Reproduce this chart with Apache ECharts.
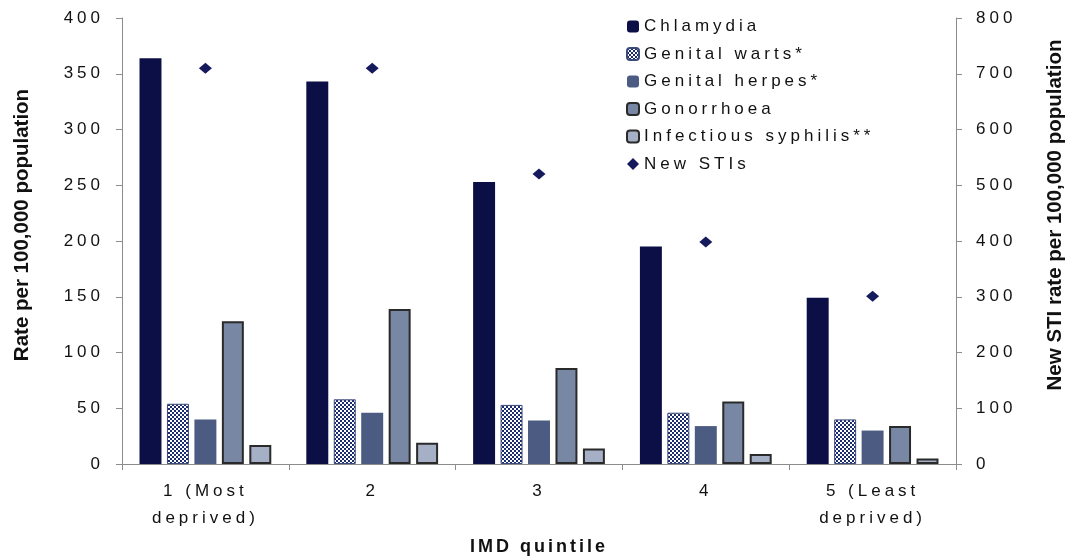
<!DOCTYPE html>
<html>
<head>
<meta charset="utf-8">
<script src="https://cdn.jsdelivr.net/npm/echarts@6/dist/echarts.min.js"></script>
<style>
html,body{margin:0;padding:0;background:#fff;}
#chart{width:1072px;height:557px;}
</style>
</head>
<body>
<div id="chart"></div>
<script>
// ---- data ----
var categories = ['1 (Most\ndeprived)', '2', '3', '4', '5 (Least\ndeprived)'];
var chlamydia = [364, 343, 253, 195, 149];
var genitalWarts = [54, 58, 53, 46, 40];
var genitalHerpes = [40, 46, 39, 34, 30];
var gonorrhoea = [128, 139, 86, 56, 34];
var syphilis = [17, 19, 14, 9, 5];
var newSTIs = [710, 710, 520, 398, 301];
var leftTicks = {min: 0, max: 400, interval: 50};
var rightTicks = {min: 0, max: 800, interval: 100};

// widen letter spacing of text to mimic the stretched original rendering
(function () {
  var P = CanvasRenderingContext2D.prototype;
  function sp(ctx) {
    var f = ctx.font || '';
    var s = '4px';
    if (/\b600\b/.test(f)) s = '0px';
    else if (/bold|700/.test(f)) s = '3px';
    if ('letterSpacing' in ctx) ctx.letterSpacing = s;
  }
  ['fillText', 'strokeText', 'measureText'].forEach(function (n) {
    var o = P[n];
    P[n] = function () { sp(this); return o.apply(this, arguments); };
  });
})();

function checker() {
  var c = document.createElement('canvas');
  c.width = 4; c.height = 4;
  var g = c.getContext('2d');
  g.fillStyle = '#ffffff'; g.fillRect(0, 0, 4, 4);
  g.fillStyle = '#1c2b6e'; g.fillRect(0, 0, 2, 2); g.fillRect(2, 2, 2, 2);
  return c;
}

var FONT = 'Liberation Sans, Arial, sans-serif';
var TXT = '#111111';
var AX = '#8c8c8c';

var chart = echarts.init(document.getElementById('chart'), null, {renderer: 'canvas'});
var barBase = {type: 'bar', barGap: '25%', barCategoryGap: '21%'};

chart.setOption({
  animation: false,
  backgroundColor: '#ffffff',
  textStyle: {fontFamily: FONT, color: TXT},
  grid: {left: 122, right: 116, top: 18, bottom: 93, containLabel: false, outerBoundsMode: 'none'},
  legend: {
    orient: 'vertical', left: 621, top: 11, itemGap: 6.5,
    itemWidth: 12, itemHeight: 12,
    textStyle: {fontFamily: FONT, fontSize: 17, color: TXT},
    data: ['Chlamydia', 'Genital warts*', 'Genital herpes*', 'Gonorrhoea', 'Infectious syphilis**', 'New STIs']
  },
  xAxis: {
    type: 'category', data: categories, boundaryGap: true,
    name: 'IMD quintile', nameLocation: 'middle', nameGap: 71,
    nameTextStyle: {fontFamily: FONT, fontWeight: 'bold', fontSize: 18, color: TXT},
    axisLine: {lineStyle: {color: AX, width: 1}},
    axisTick: {show: true, length: 6, lineStyle: {color: AX}},
    axisLabel: {fontFamily: FONT, fontSize: 17, color: TXT, margin: 14, lineHeight: 27}
  },
  yAxis: [{
    type: 'value', min: leftTicks.min, max: leftTicks.max, interval: leftTicks.interval,
    name: 'Rate per 100,000 population', nameLocation: 'middle', nameGap: 89, nameRotate: 90,
    nameTextStyle: {fontFamily: FONT, fontWeight: 600, fontSize: 20.5, color: TXT, padding: [0, 0, 0, 32]},
    splitLine: {show: false},
    axisLine: {show: true, lineStyle: {color: AX, width: 1}},
    axisTick: {show: true, length: 6, lineStyle: {color: AX}},
    axisLabel: {fontFamily: FONT, fontSize: 17, color: TXT, margin: 18}
  }, {
    type: 'value', min: rightTicks.min, max: rightTicks.max, interval: rightTicks.interval,
    name: 'New STI rate per 100,000 population', nameLocation: 'middle', nameGap: 89, nameRotate: 90,
    nameTextStyle: {fontFamily: FONT, fontWeight: 600, fontSize: 20.5, color: TXT, padding: [0, 0, 0, 52]},
    splitLine: {show: false},
    axisLine: {show: true, lineStyle: {color: AX, width: 1}},
    axisTick: {show: true, length: 6, lineStyle: {color: AX}},
    axisLabel: {fontFamily: FONT, fontSize: 17, color: TXT, margin: 20}
  }],
  series: [
    Object.assign({}, barBase, {name: 'Chlamydia', data: chlamydia,
      itemStyle: {color: '#0b0f45'}}),
    Object.assign({}, barBase, {name: 'Genital warts*', data: genitalWarts,
      itemStyle: {color: {image: checker(), repeat: 'repeat'}, borderColor: '#3a4a7a', borderWidth: 1}}),
    Object.assign({}, barBase, {name: 'Genital herpes*', data: genitalHerpes,
      itemStyle: {color: '#4b5b82'}}),
    Object.assign({}, barBase, {name: 'Gonorrhoea', data: gonorrhoea,
      itemStyle: {color: '#7887a4', borderColor: '#2a2a2a', borderWidth: 2}}),
    Object.assign({}, barBase, {name: 'Infectious syphilis**', data: syphilis,
      itemStyle: {color: '#a5afc6', borderColor: '#2a2a2a', borderWidth: 2}}),
    {type: 'scatter', name: 'New STIs', yAxisIndex: 1, data: newSTIs,
      symbol: 'diamond', symbolSize: [13, 11], itemStyle: {color: '#141a5c', opacity: 1}}
  ]
});
</script>
</body>
</html>
